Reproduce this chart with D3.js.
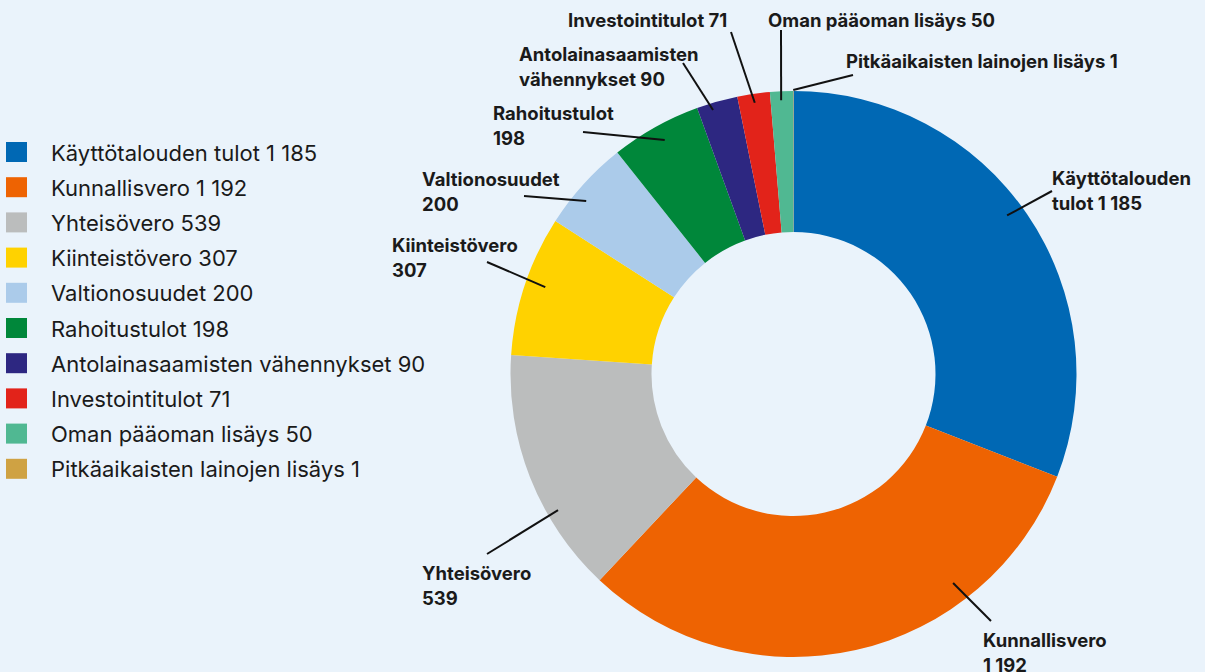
<!DOCTYPE html>
<html>
<head>
<meta charset="utf-8">
<script src="https://cdn.jsdelivr.net/npm/d3@7"></script>
<style>
  html, body { margin: 0; padding: 0; background: #eaf3fb; }
  svg { display: block; font-family: Inter, "Noto Sans", sans-serif; }
</style>
</head>
<body>
<div id="chart"></div>
<script>
// data
const names = ["Käyttötalouden tulot", "Kunnallisvero", "Yhteisövero", "Kiinteistövero",
  "Valtionosuudet", "Rahoitustulot", "Antolainasaamisten vähennykset", "Investointitulot",
  "Oman pääoman lisäys", "Pitkäaikaisten lainojen lisäys"];
const values = [1185, 1192, 539, 307, 200, 198, 90, 71, 50, 1];
const colors = ["#0068b4", "#ee6302", "#bbbdbd", "#ffd200", "#abcbea", "#00873a",
  "#2d2781", "#e2231a", "#50b892", "#cfa243"];

// label layout: text lines, text position, leader outer end, where leader hits slice
const labelLines = [
  ["Käyttötalouden", "tulot 1 185"],
  ["Kunnallisvero", "1 192"],
  ["Yhteisövero", "539"],
  ["Kiinteistövero", "307"],
  ["Valtionosuudet", "200"],
  ["Rahoitustulot", "198"],
  ["Antolainasaamisten", "vähennykset 90"],
  ["Investointitulot 71"],
  ["Oman pääoman lisäys 50"],
  ["Pitkäaikaisten lainojen lisäys 1"]
];
const labelPos = [[1052, 185], [983, 647], [422, 580], [392, 252], [422, 186],
  [493, 120], [519, 61], [568, 27], [768, 27], [846, 68]];
const leaderEnd = [[1052, 191], [991, 621], [487, 554], [487, 262], [524, 196],
  [583, 132], [683, 63], [731, 32], [781, 30], [853, 75]];
const leaderFrac = [0.48, 0.28, 0.33, 0.535, 0.38, 0.52, 0.35, 0.5, 0.47, 0.5];
const leaderR = [266, 263, 272, 263, 270, 267, 276, 274, 274, 284];

const width = 1205, height = 672;
const cx = 793.5, cy = 374;
const outerR = 283, innerR = 142;

const data = names.map((n, i) => ({ name: n, value: values[i], color: colors[i], i: i }));

const svg = d3.select("#chart").append("svg")
  .attr("width", width)
  .attr("height", height);

svg.append("rect")
  .attr("width", width)
  .attr("height", height)
  .attr("fill", "#eaf3fb");

const pie = d3.pie().sort(null).value(d => d.value);
const arc = d3.arc().innerRadius(innerR).outerRadius(outerR);
const arcs = pie(data);

const g = svg.append("g").attr("transform", `translate(${cx},${cy})`);

g.selectAll("path")
  .data(arcs)
  .join("path")
  .attr("d", arc)
  .attr("fill", d => d.data.color);

// leaders
arcs.forEach((d, i) => {
  const a = d.startAngle + leaderFrac[i] * (d.endAngle - d.startAngle);
  const r = leaderR[i];
  const x1 = cx + r * Math.sin(a);
  const y1 = cy - r * Math.cos(a);
  svg.append("line")
    .attr("x1", x1).attr("y1", y1)
    .attr("x2", leaderEnd[i][0]).attr("y2", leaderEnd[i][1])
    .attr("stroke", "#111")
    .attr("stroke-width", 2);

  const t = svg.append("text")
    .attr("x", labelPos[i][0])
    .attr("y", labelPos[i][1])
    .style("font-size", "18.5px")
    .style("font-weight", "700")
    .attr("fill", "#1a1a1a");
  labelLines[i].forEach((line, j) => {
    t.append("tspan")
      .attr("x", labelPos[i][0])
      .attr("dy", j === 0 ? 0 : 25)
      .text(line);
  });
});

// legend
const legend = svg.append("g").attr("transform", "translate(6,142)");
const rows = legend.selectAll("g")
  .data(data)
  .join("g")
  .attr("transform", (d, i) => `translate(0,${i * 35.2})`);

rows.append("rect")
  .attr("width", 21)
  .attr("height", 20)
  .attr("fill", d => d.color);

rows.append("text")
  .attr("x", 45)
  .attr("y", 18.5)
  .style("font-size", "22px")
  .attr("fill", "#1a1a1a")
  .text(d => `${d.name} ${d3.format(",")(d.value).replace(/,/g, " ")}`);
</script>
</body>
</html>
